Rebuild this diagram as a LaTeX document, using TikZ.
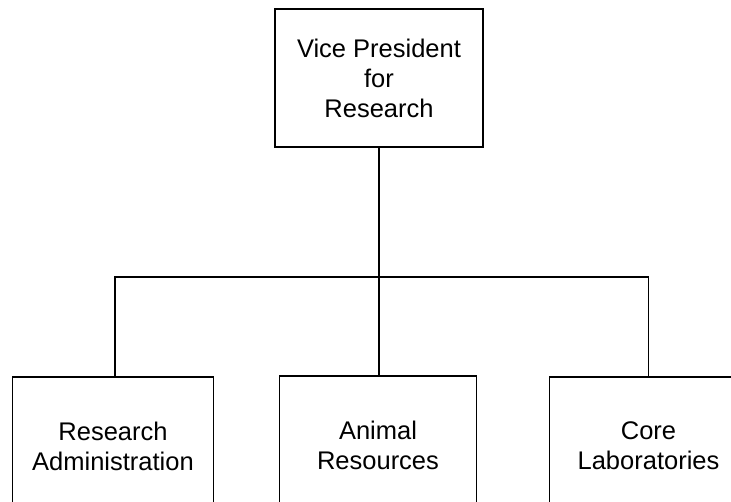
\documentclass[tikz,border=0pt]{standalone}
\usepackage{fontspec}
\setmainfont{Liberation Sans}

\begin{document}
\begin{tikzpicture}[x=1pt,y=-1pt,line width=1.4pt,
	unit/.style={draw,rectangle,inner sep=0pt,align=center,
		font=\fontsize{25.5}{30}\selectfont}]
	\useasboundingbox (0,0) rectangle (731,502);
	\clip (0,0) rectangle (731,502);
	\node[unit,minimum width=208pt,minimum height=138pt] (vp) at (379,78) {Vice President\\for\\Research};
	\node[unit,minimum width=201pt,minimum height=138pt] (radm) at (113,446) {Research\\Administration};
	\node[unit,minimum width=197pt,minimum height=138pt] (anim) at (378,445) {Animal\\Resources};
	\node[unit,minimum width=198pt,minimum height=138pt] (core) at (648.5,446) {Core\\Laboratories};
	\coordinate (bus) at (379,277);
	\coordinate (radm top) at ([xshift=2pt]radm.north);
	\draw (vp.south)--(vp.south |- anim.north);
	\draw (radm top)--(radm top |- bus)--(core.north |- bus)--(core.north);
\end{tikzpicture}
\end{document}
